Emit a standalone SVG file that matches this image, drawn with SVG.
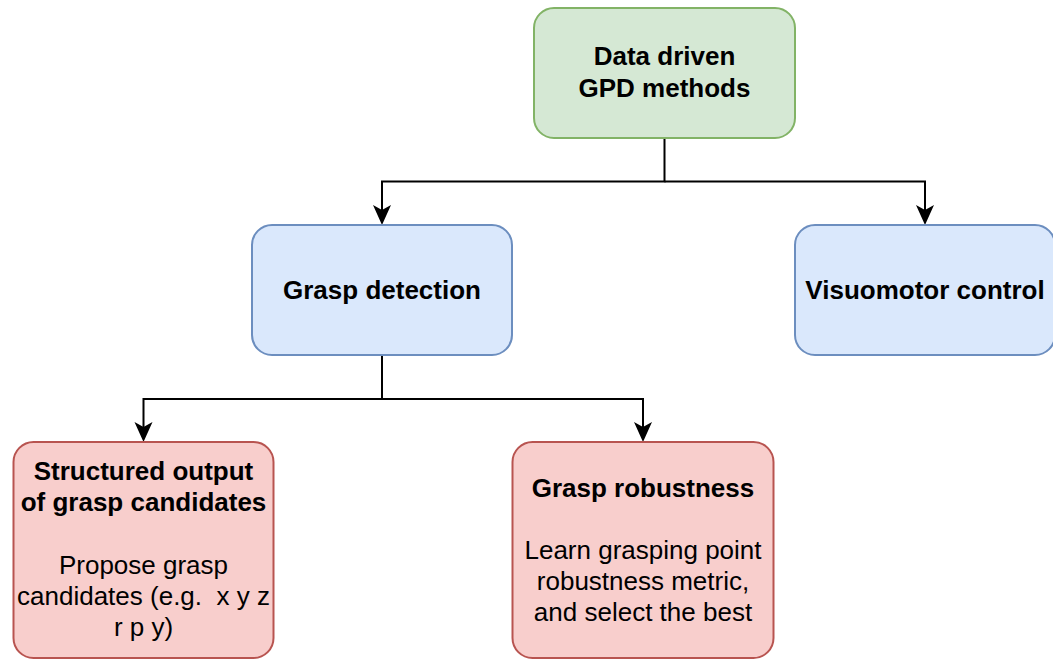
<svg xmlns="http://www.w3.org/2000/svg" width="1053" height="660" viewBox="0 0 1053 660">
  <style>
    .box { stroke-width: 2; }
    .green { fill: #d5e8d4; stroke: #82b366; }
    .blue { fill: #dae8fc; stroke: #6c8ebf; }
    .red { fill: #f8cecc; stroke: #b85450; }
    text { font-family: "Liberation Sans", Arial, Helvetica, sans-serif; font-size: 26px; fill: #000; text-anchor: middle; white-space: pre; }
    .b { font-weight: bold; }
    .edge { fill: none; stroke: #000; stroke-width: 2; marker-end: url(#arrow); }
  </style>
  <defs>
    <!-- classic arrowhead with a notch; tip sits 15px past the path end -->
    <marker id="arrow" markerUnits="userSpaceOnUse" markerWidth="21" markerHeight="18" refX="5" refY="9" orient="auto" overflow="visible">
      <path d="M20,9 L0,0 L5,9 L0,18 Z" fill="#000"/>
    </marker>
  </defs>
  <rect width="1053" height="660" fill="#fff"/>

  <g id="connectors">
    <path class="edge" d="M664.5,138 V181.5 H382 V210"/>
    <path class="edge" d="M664.5,181.5 H925 V210"/>
    <path class="edge" d="M382,355 V399 H143.5 V427"/>
    <path class="edge" d="M382,399 H643 V427"/>
  </g>

  <g id="node-gpd">
    <rect class="box green" x="534" y="8" width="261" height="130" rx="20"/>
    <text class="b" x="664.5" y="65">Data driven</text>
    <text class="b" x="664.5" y="97">GPD methods</text>
  </g>

  <g id="node-grasp-detection">
    <rect class="box blue" x="252" y="225" width="260" height="130" rx="20"/>
    <text class="b" x="382" y="299">Grasp detection</text>
  </g>

  <g id="node-visuomotor">
    <rect class="box blue" x="795" y="225" width="260" height="130" rx="20"/>
    <text class="b" x="925" y="299">Visuomotor control</text>
  </g>

  <g id="node-structured-output">
    <rect class="box red" x="13.5" y="442" width="260" height="216" rx="20"/>
    <text class="b" x="143.5" y="480">Structured output</text>
    <text class="b" x="143.5" y="511">of grasp candidates</text>
    <text x="143.5" y="574">Propose grasp</text>
    <text x="143.5" y="605" xml:space="preserve">candidates (e.g.  x y z</text>
    <text x="143.5" y="636">r p y)</text>
  </g>

  <g id="node-grasp-robustness">
    <rect class="box red" x="512.5" y="442" width="261" height="216" rx="20"/>
    <text class="b" x="643" y="497">Grasp robustness</text>
    <text x="643" y="559">Learn grasping point</text>
    <text x="643" y="590">robustness metric,</text>
    <text x="643" y="621">and select the best</text>
  </g>
</svg>
